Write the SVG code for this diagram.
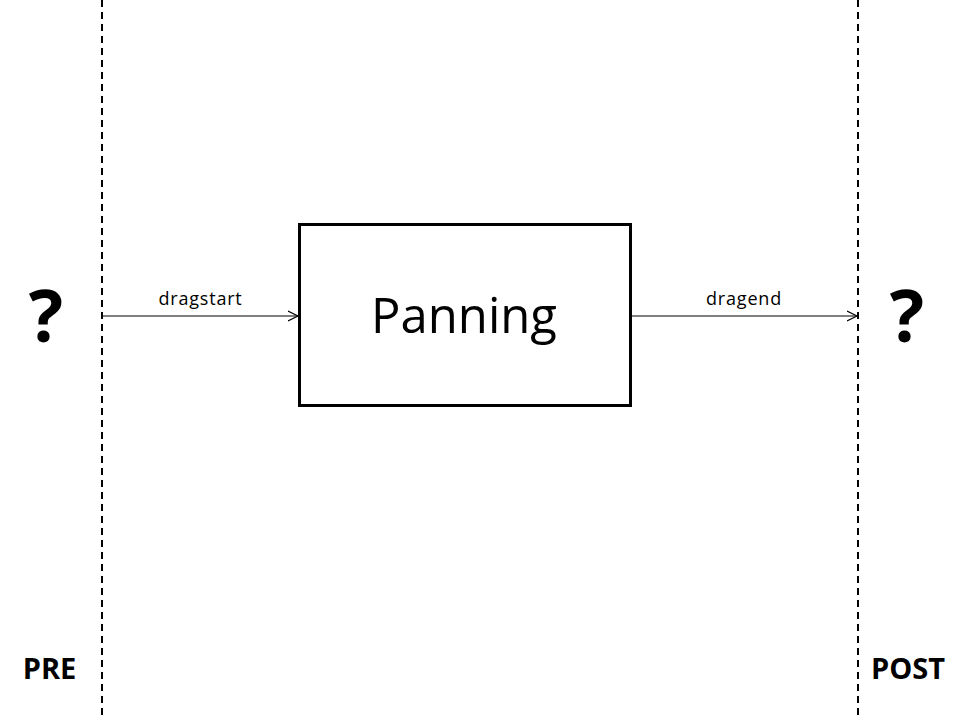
<svg xmlns="http://www.w3.org/2000/svg" width="960" height="720" viewBox="0 0 960 720">
<style>
.t{font-family:"Open Sans","Noto Sans","Liberation Sans",sans-serif;fill:#000;text-anchor:middle}
.b{font-weight:bold}
.dash{stroke:#000;stroke-width:2;stroke-dasharray:7,5;fill:none}
.conn{stroke:#000;stroke-width:1.2;fill:none}
</style>
<defs>
<marker id="arr" markerWidth="12" markerHeight="12" refX="10" refY="5" orient="auto" markerUnits="userSpaceOnUse" viewBox="0 0 12 10">
<path d="M0,0 L10,5 L0,10" fill="none" stroke="#000" stroke-width="1.2"/>
</marker>
</defs>
<rect width="960" height="720" fill="#fff"/>
<g id="boundaries">
<line class="dash" x1="102" y1="0" x2="102" y2="720"/>
<line class="dash" x1="858" y1="0" x2="858" y2="720"/>
</g>
<g id="pre">
<text class="t b" x="46" y="342" font-size="72">?</text>
<text class="t b" x="49.5" y="679" font-size="29">PRE</text>
</g>
<g id="post">
<text class="t b" x="907" y="342" font-size="72">?</text>
<text class="t b" x="908" y="679" font-size="29">POST</text>
</g>
<g id="panning">
<rect x="299.5" y="224.5" width="331" height="181" fill="#fff" stroke="#000" stroke-width="3"/>
<text class="t" x="464" y="333" font-size="49">Panning</text>
</g>
<g id="connectors">
<line class="conn" x1="102" y1="316" x2="298" y2="316" marker-end="url(#arr)"/>
<text class="t" x="200.5" y="305" font-size="18" letter-spacing="0.8">dragstart</text>
<line class="conn" x1="631" y1="316" x2="857" y2="316" marker-end="url(#arr)"/>
<text class="t" x="744" y="305" font-size="18" letter-spacing="0.8">dragend</text>
</g>
</svg>
